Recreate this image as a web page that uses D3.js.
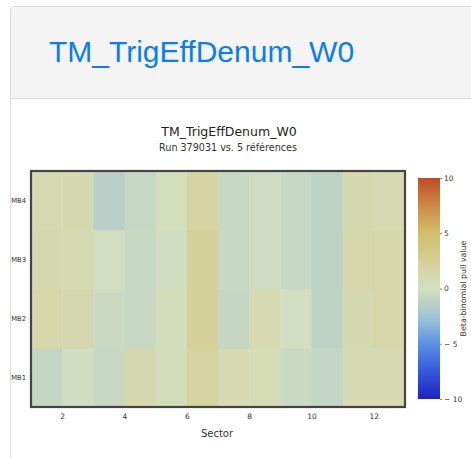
<!DOCTYPE html>
<html>
<head>
<meta charset="utf-8">
<script src="https://cdn.jsdelivr.net/npm/d3@7"></script>
<style>
  body { margin: 0; background: #fff; overflow: hidden; }
  .card {
    position: absolute; left: 10px; top: 6px; width: 480px; height: 470px;
    border: 1px solid #dcdcdc; border-radius: 5px; background: #fff;
  }
  .card-header {
    height: 91px; background: #f4f4f4; border-bottom: 1px solid #dcdcdc;
    border-radius: 5px 5px 0 0;
  }
  .card-header span {
    position: absolute; left: 38px; top: 28px;
    font-family: 'Liberation Sans', sans-serif; font-size: 30px; color: #0a7cf5;
  }
  svg { position: absolute; left: 0; top: 0; }
</style>
</head>
<body>
<div class="card"><div class="card-header"><span>TM_TrigEffDenum_W0</span></div></div>
<svg id="chart" width="471" height="458"></svg>
<script>
// Data: beta-binomial pull values per station (row) and sector (column)
const sectors = [1, 2, 3, 4, 5, 6, 7, 8, 9, 10, 11, 12];
const stations = ['MB1', 'MB2', 'MB3', 'MB4'];
const pullMB1 = [-0.8, -0.2, -0.6, 1.1, 0.4, 2.0, 0.8, 0.7, -0.5, -0.9, 0.8, 0.8];
const pullMB2 = [1.3, 1.1, -0.5, -0.6, 0.3, 2.2, -0.8, 0.8, -0.1, -1.2, 1.0, 1.3];
const pullMB3 = [1.0, 0.9, -0.1, -0.6, -0.2, 2.2, -0.6, -0.3, -0.6, -1.2, 1.3, 1.3];
const pullMB4 = [0.8, 1.0, -1.5, -0.7, 0.2, 1.8, -0.6, -0.3, -0.6, -1.2, 1.0, 0.8];
const xTicks = [2, 4, 6, 8, 10, 12];
const cbTicks = [10, 5, 0, -5, -10];
const colorStops = [-10, -7, -5, -3, -1.5, 0, 1.5, 3, 5, 7.5, 10];
const colorValues = ['#1c22c6', '#3a64dc', '#5c92e4', '#95bcd8', '#b8d0c8', '#d3dfc0',
                     '#d6d6a8', '#d4cc8c', '#d2bf6a', '#cc8a46', '#c04a28'];

const rows = [pullMB1, pullMB2, pullMB3, pullMB4];
const cells = [];
rows.forEach((r, i) => r.forEach((v, j) => cells.push({ st: stations[i], sec: sectors[j], v })));

const svg = d3.select('#chart');
const font = 'DejaVu Sans, sans-serif';
const plot = { left: 31, right: 405, top: 171, bottom: 407 };

const x = d3.scaleLinear().domain([1, 13]).range([plot.left, plot.right]);
const y = d3.scaleBand().domain(stations.slice().reverse()).range([plot.top, plot.bottom]);
const color = d3.scaleLinear().domain(colorStops).range(colorValues).clamp(true);

// Titles
svg.append('text').attr('x', 229).attr('y', 136).attr('text-anchor', 'middle')
  .attr('font-family', font).attr('font-size', 12.5).attr('fill', '#222')
  .text('TM_TrigEffDenum_W0');
svg.append('text').attr('x', 228).attr('y', 151).attr('text-anchor', 'middle')
  .attr('font-family', font).attr('font-size', 9.6).attr('fill', '#333')
  .text('Run 379031 vs. 5 références');

// Cells
svg.append('g').selectAll('rect').data(cells).join('rect')
  .attr('x', d => x(d.sec))
  .attr('y', d => y(d.st))
  .attr('width', x(2) - x(1) + 0.5)
  .attr('height', y.bandwidth() + 0.5)
  .attr('fill', d => color(d.v));

// Frame
svg.append('rect')
  .attr('x', plot.left).attr('y', plot.top)
  .attr('width', plot.right - plot.left).attr('height', plot.bottom - plot.top)
  .attr('fill', 'none').attr('stroke', '#444').attr('stroke-width', 2.2);

// Axes
const xAxis = svg.append('g').attr('transform', `translate(0,${plot.bottom + 1})`)
  .call(d3.axisBottom(x).tickValues(xTicks).tickSize(0).tickPadding(6));
xAxis.select('.domain').remove();
xAxis.selectAll('text').attr('font-family', font).attr('font-size', 7.5).attr('fill', '#333');

const yAxis = svg.append('g').attr('transform', `translate(${plot.left - 1},0)`)
  .call(d3.axisLeft(y).tickSize(0).tickPadding(4));
yAxis.select('.domain').remove();
yAxis.selectAll('text').attr('font-family', font).attr('font-size', 6.8).attr('fill', '#333');

svg.append('text').attr('x', 217).attr('y', 437).attr('text-anchor', 'middle')
  .attr('font-family', font).attr('font-size', 10).attr('fill', '#333').text('Sector');

// Colorbar
const cb = { x: 418, w: 22, top: 178, bottom: 399 };
const cy = d3.scaleLinear().domain([-10, 10]).range([cb.bottom, cb.top]);
const grad = svg.append('defs').append('linearGradient').attr('id', 'cbgrad')
  .attr('x1', 0).attr('y1', 1).attr('x2', 0).attr('y2', 0);
grad.selectAll('stop').data(colorStops).join('stop')
  .attr('offset', d => (d + 10) / 20)
  .attr('stop-color', d => color(d));
svg.append('rect').attr('x', cb.x).attr('y', cb.top)
  .attr('width', cb.w).attr('height', cb.bottom - cb.top).attr('fill', 'url(#cbgrad)');

const cAxis = svg.append('g').attr('transform', `translate(${cb.x + cb.w},0)`)
  .call(d3.axisRight(cy).tickValues(cbTicks).tickSize(2).tickPadding(2)
    .tickFormat(d => d < 0 ? '\u2212 ' + Math.abs(d) : d));
cAxis.select('.domain').remove();
cAxis.selectAll('line').attr('stroke', '#888');
cAxis.selectAll('text').attr('font-family', font).attr('font-size', 7.5).attr('fill', '#333');

svg.append('text')
  .attr('transform', `translate(466,${cy(0)}) rotate(-90)`)
  .attr('text-anchor', 'middle')
  .attr('font-family', font).attr('font-size', 7.9).attr('fill', '#333')
  .text('Beta-binomial pull value');
</script>
</body>
</html>
